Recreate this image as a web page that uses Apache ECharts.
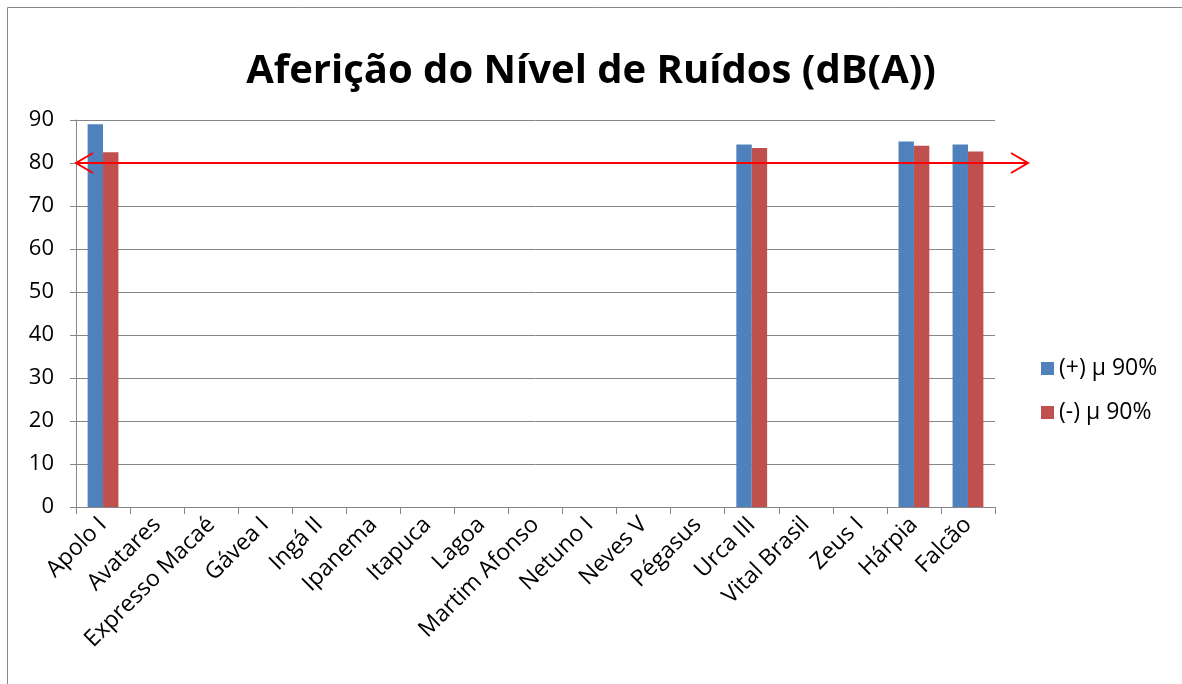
<!DOCTYPE html>
<html>
<head>
<meta charset="utf-8">
<script src="https://cdn.jsdelivr.net/npm/echarts@6/dist/echarts.min.js"></script>
<style>
  html, body { margin: 0; padding: 0; background: #fff; }
  #chart { width: 1182px; height: 684px; }
</style>
</head>
<body>
<div id="chart"></div>
<script>
// dados
var categorias = ['Apolo I', 'Avatares', 'Expresso Macaé', 'Gávea I', 'Ingá II', 'Ipanema', 'Itapuca', 'Lagoa',
  'Martim Afonso', 'Netuno I', 'Neves V', 'Pégasus', 'Urca III', 'Vital Brasil', 'Zeus I', 'Hárpia', 'Falcão']
var maisMu = [89.0, null, null, null, null, null, null, null, null, null, null, null, 84.3, null, null, 85.0, 84.3]
var menosMu = [82.5, null, null, null, null, null, null, null, null, null, null, null, 83.5, null, null, 84.0, 82.7]
var limite = 80
var fonte = '"Open Sans", sans-serif'

var chart = echarts.init(document.getElementById('chart'))
chart.setOption({
  animation: false,
  title: {
    text: 'Aferição do Nível de Ruídos (dB(A))',
    left: 'center',
    top: 47,
    textStyle: { fontFamily: fonte, fontSize: 40, fontWeight: 'bold', color: '#000' }
  },
  legend: {
    orient: 'vertical',
    left: 1036,
    top: 352,
    itemWidth: 13,
    itemHeight: 13,
    itemGap: 21,
    icon: 'rect',
    textStyle: { fontFamily: fonte, fontSize: 23, color: '#000' }
  },
  grid: { left: 76, right: 187, top: 120, bottom: 177 },
  xAxis: {
    type: 'category',
    data: categorias,
    axisLine: { lineStyle: { color: '#868686', width: 1 } },
    axisTick: { show: true, length: 7, lineStyle: { color: '#868686' } },
    axisLabel: { rotate: 45, fontFamily: fonte, fontSize: 23, color: '#000', margin: 14, interval: 0 }
  },
  yAxis: {
    type: 'value',
    min: 0,
    max: 90,
    interval: 10,
    axisLine: { show: true, lineStyle: { color: '#868686' } },
    axisTick: { show: true, length: 6, lineStyle: { color: '#868686' } },
    axisLabel: { fontFamily: fonte, fontSize: 22, color: '#000', margin: 22 },
    splitLine: { lineStyle: { color: '#868686' } }
  },
  series: [
    {
      name: '(+) µ 90%',
      type: 'bar',
      data: maisMu,
      barGap: '0%',
      barCategoryGap: '43%',
      itemStyle: { color: '#4F81BD' }
    },
    {
      name: '(-) µ 90%',
      type: 'bar',
      data: menosMu,
      itemStyle: { color: '#C0504D' }
    }
  ]
})

// moldura e seta do limite (posicionada pela escala do eixo)
var y80 = chart.convertToPixel({ yAxisIndex: 0 }, limite)
var xIni = chart.convertToPixel({ xAxisIndex: 0 }, categorias[0]) - 27
var xFim = 1028
chart.setOption({
  graphic: [
    {
      type: 'rect',
      shape: { x: 7.5, y: 7.5, width: 1190, height: 700 },
      style: { fill: 'none', stroke: '#888', lineWidth: 1 },
      silent: true
    },
    {
      type: 'line',
      shape: { x1: xIni, y1: y80, x2: xFim, y2: y80 },
      style: { stroke: '#FF0000', lineWidth: 2 },
      z: 10
    },
    {
      type: 'polyline',
      shape: { points: [[xIni + 17, y80 - 10], [xIni, y80], [xIni + 17, y80 + 10]] },
      style: { stroke: '#FF0000', lineWidth: 2, fill: 'none' },
      z: 10
    },
    {
      type: 'polyline',
      shape: { points: [[xFim - 17, y80 - 10], [xFim, y80], [xFim - 17, y80 + 10]] },
      style: { stroke: '#FF0000', lineWidth: 2, fill: 'none' },
      z: 10
    }
  ]
})
</script>
</body>
</html>
